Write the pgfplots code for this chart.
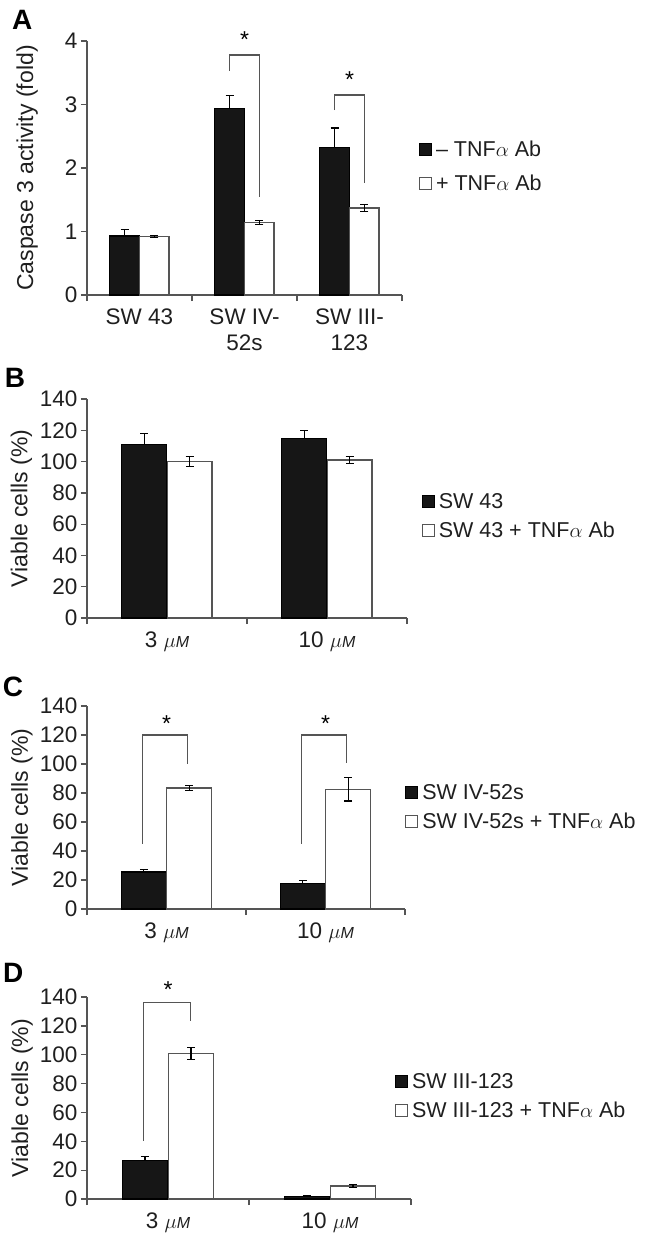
\documentclass[border=0pt]{standalone}
\usepackage{fontspec}
\setmainfont{Liberation Sans}
\usepackage{pgfplots}
\pgfplotsset{compat=1.18}
\newcommand\fsz{\fontsize{23}{26}\selectfont}
\newcommand\lsz{\fontsize{21.5}{25}\selectfont}
\newcommand\tsz{\fontsize{22.5}{26}\selectfont}
\newcommand\um{{\itshape$\mu$\fontsize{16}{16}\selectfont M}}
\definecolor{barblack}{HTML}{161616}
\definecolor{axgray}{HTML}{555555}
\tikzset{brk/.style={axgray, line width=1.3pt}}
\pgfplotsset{
  panel/.style={
    scale only axis, clip=false,
    axis x line*=bottom, axis y line*=left,
    axis line style={axgray, line width=1.3pt, -},
    every tick/.style={axgray, line width=1.3pt},
    major tick length=6pt,
    tick align=outside,
    ymin=0,
    x tick label as interval,
    xticklabel style={align=center, yshift=-4pt},
    /pgf/number format/assume math mode=true,
    tick label style={font=\tsz, text=black!88},
    label style={font=\fsz, text=black!88},
    ybar=0pt,
    bar width=0.28,
    error bars/y dir=both, error bars/y explicit,
    error bars/error bar style={black, line width=1.1pt},
    error bars/error mark options={rotate=90, mark size=4pt, line width=1.1pt, black},
    legend style={draw=none, fill=none, font=\lsz, anchor=north west,
      legend cell align=left, inner sep=0pt, row sep=8pt,
      nodes={inner sep=2pt, text=black!88}},
  },
  blk/.style={fill=barblack, draw=black, line width=1.1pt, bar shift=-0.142,
    error bars/y dir=plus,
    legend image code/.code={\draw[fill=barblack, draw=black, line width=0.8pt] (0pt,-6pt) rectangle (12pt,6pt); \path (14pt,0pt);}},
  wht/.style={fill=white, draw=axgray, line width=1.3pt, bar shift=0.142,
    legend image code/.code={\draw[fill=white, draw=axgray, line width=1pt] (0pt,-6pt) rectangle (12pt,6pt); \path (14pt,0pt);}},
}
\begin{document}
\begin{tikzpicture}
\path[use as bounding box] (0pt,0pt) rectangle (652pt,-1235pt);

% ---------------- Panel A ----------------
\begin{axis}[panel, at={(87pt,-295pt)}, anchor=south west,
  width=315pt, height=254pt,
  xmin=-0.5, xmax=2.5, ymax=4,
  xtick={-0.5,0.5,1.5,2.5},
  xticklabels={SW 43, {SW IV-\\52s}, {SW III-\\123}},
  ytick={0,1,2,3,4},
  ylabel={Caspase 3 activity (fold)},
  ylabel style={at={(axis description cs:-0.19,0.5)}, anchor=center},
  legend style={at={(axis description cs:1.053,0.614)}, row sep=13pt},
]
\addplot[blk] table[y error index=2] {
x y e
0 0.93 0.10
1 2.94 0.20
2 2.33 0.30
};
\addlegendentry{– TNF$\alpha$ Ab}
\addplot[wht] table[y error index=2] {
x y e
0 0.92 0.02
1 1.14 0.03
2 1.37 0.06
};
\addlegendentry{+ TNF$\alpha$ Ab}
\draw[brk] (axis cs:0.857,3.53) |- (axis cs:1.143,3.78) -- (axis cs:1.143,1.54);
\node[font=\fsz] at (axis cs:1,4.02) {*};
\draw[brk] (axis cs:1.857,2.91) |- (axis cs:2.143,3.15) -- (axis cs:2.143,1.76);
\node[font=\fsz] at (axis cs:2,3.40) {*};
\node[font=\bfseries\fontsize{28}{28}\selectfont] at (axis description cs:-0.206,1.083) {A};
\end{axis}

% ---------------- Panel B ----------------
\begin{axis}[panel, at={(87pt,-618pt)}, anchor=south west,
  width=320pt, height=219pt,
  xmin=-0.5, xmax=1.5, ymax=140,
  xtick={-0.5,0.5,1.5},
  xticklabels={3 \um, 10 \um},
  ytick={0,20,...,140},
  ylabel={Viable cells (\%)},
  ylabel style={at={(axis description cs:-0.205,0.5)}, anchor=center},
  legend style={at={(axis description cs:1.045,0.58)}},
]
\addplot[blk] table[y error index=2] {
x y e
0 111 7
1 114.5 5.5
};
\addlegendentry{SW 43}
\addplot[wht] table[y error index=2] {
x y e
0 100 3
1 101 2
};
\addlegendentry{SW 43 + TNF$\alpha$ Ab}
\node[font=\bfseries\fontsize{28}{28}\selectfont] at (axis description cs:-0.225,1.096) {B};
\end{axis}

% ---------------- Panel C ----------------
\begin{axis}[panel, at={(87pt,-909pt)}, anchor=south west,
  width=318pt, height=203pt,
  xmin=-0.5, xmax=1.5, ymax=140,
  xtick={-0.5,0.5,1.5},
  xticklabels={3 \um, 10 \um},
  ytick={0,20,...,140},
  ylabel={Viable cells (\%)},
  ylabel style={at={(axis description cs:-0.205,0.5)}, anchor=center},
  legend style={at={(axis description cs:1.0,0.626)}},
]
\addplot[blk] table[y error index=2] {
x y e
0 25.5 2
1 17.5 2
};
\addlegendentry{SW IV-52s}
\addplot[wht] table[y error index=2] {
x y e
0 83.5 1.5
1 82.5 8
};
\addlegendentry{SW IV-52s + TNF$\alpha$ Ab}
\draw[brk] (axis cs:-0.15,45) |- (axis cs:0.13,120) -- (axis cs:0.13,100);
\node[font=\fsz] at (axis cs:0,128) {*};
\draw[brk] (axis cs:0.85,45) |- (axis cs:1.13,120) -- (axis cs:1.13,101);
\node[font=\fsz] at (axis cs:1,128) {*};
\node[font=\bfseries\fontsize{28}{28}\selectfont] at (axis description cs:-0.233,1.094) {C};
\end{axis}

% ---------------- Panel D ----------------
\begin{axis}[panel, at={(87pt,-1199pt)}, anchor=south west,
  width=324pt, height=202pt,
  xmin=-0.5, xmax=1.5, ymax=140,
  xtick={-0.5,0.5,1.5},
  xticklabels={3 \um, 10 \um},
  ytick={0,20,...,140},
  ylabel={Viable cells (\%)},
  ylabel style={at={(axis description cs:-0.2,0.5)}, anchor=center},
  legend style={at={(axis description cs:0.95,0.634)}},
]
\addplot[blk] table[y error index=2] {
x y e
0 27 2.3
1 2 0.5
};
\addlegendentry{SW III-123}
\addplot[wht] table[y error index=2] {
x y e
0 101 4
1 9 1
};
\addlegendentry{SW III-123 + TNF$\alpha$ Ab}
\draw[brk] (axis cs:-0.15,40.5) |- (axis cs:0.14,136.4) -- (axis cs:0.14,123.5);
\node[font=\fsz] at (axis cs:0,145) {*};
\node[font=\bfseries\fontsize{28}{28}\selectfont] at (axis description cs:-0.228,1.119) {D};
\end{axis}
\end{tikzpicture}
\end{document}
